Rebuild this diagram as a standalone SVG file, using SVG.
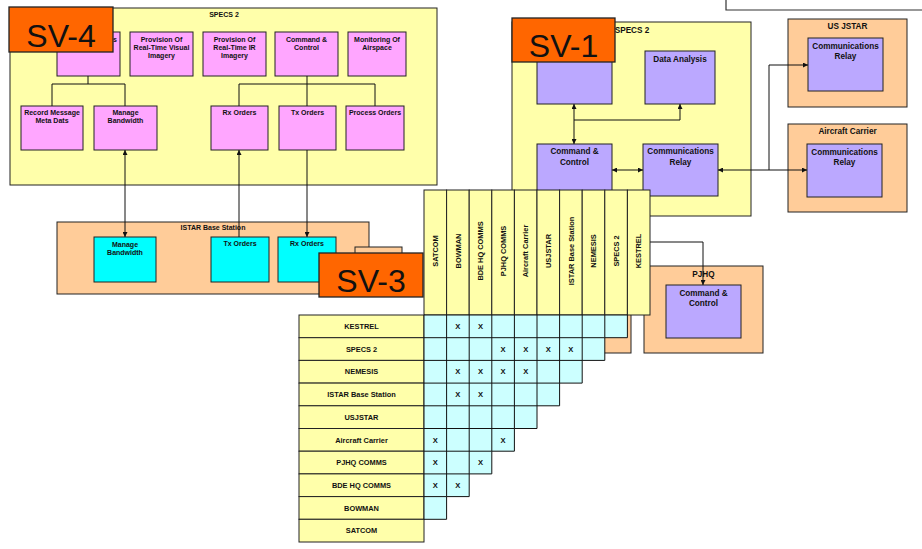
<svg xmlns="http://www.w3.org/2000/svg" width="922" height="549" viewBox="0 0 922 549">
<style>
text{font-family:"Liberation Sans",Arial,sans-serif;font-weight:bold;fill:#111;text-anchor:middle}
.s{font-size:7px}
.m{font-size:8.2px}
.t{font-size:7.4px}
.x{font-size:7.6px}
.sv{font-size:32px;font-weight:normal}
.yel{fill:#FFFFAA;stroke:#222;stroke-width:1}
.pink{fill:#FFA6FF;stroke:#222;stroke-width:1}
.pur{fill:#BBA8FF;stroke:#222;stroke-width:1}
.peach{fill:#FFCC99;stroke:#222;stroke-width:1}
.cyan{fill:#00FFFF;stroke:#222;stroke-width:1}
.cell{fill:#CCFFFF;stroke:#111;stroke-width:1}
.org{fill:#FF6600;stroke:#222;stroke-width:1.3}
.ln{fill:none;stroke:#111;stroke-width:1}
</style>
<defs>
<marker id="ah" markerWidth="5" markerHeight="5" refX="5" refY="2.5" orient="auto-start-reverse" markerUnits="userSpaceOnUse">
<path d="M0,0 L5,2.5 L0,5 z" fill="#111"/>
</marker>
</defs>
<rect width="922" height="549" fill="#fff"/>
<path d="M726,0 V10 H922" fill="none" stroke="#333" stroke-width="1.2"/>

<g id="specs2-left">
<rect class="yel" x="10" y="8" width="427" height="177"/>
<text class="s" x="224" y="17.2">SPECS 2</text>
<g id="l-comms"><rect class="pink" x="57" y="32" width="63" height="44"/><text class="s" x="117" y="41.5" style="text-anchor:end">s</text></g>
<g id="l-visual"><rect class="pink" x="130" y="32" width="63" height="44"/><text class="s" x="161.5" y="41.5">Provision Of</text><text class="s" x="161.5" y="49.7">Real-Time Visual</text><text class="s" x="161.5" y="58">Imagery</text></g>
<g id="l-ir"><rect class="pink" x="203" y="32" width="63" height="44"/><text class="s" x="234.5" y="41.5">Provision Of</text><text class="s" x="234.5" y="49.7">Real-Time IR</text><text class="s" x="234.5" y="58">Imagery</text></g>
<g id="l-cc"><rect class="pink" x="275" y="32" width="63" height="44"/><text class="s" x="306.5" y="41.5">Command &amp;</text><text class="s" x="306.5" y="49.7">Control</text></g>
<g id="l-mon"><rect class="pink" x="348" y="32" width="58" height="44"/><text class="s" x="377" y="41.5">Monitoring Of</text><text class="s" x="377" y="49.7">Airspace</text></g>
<g id="l-record"><rect class="pink" x="21" y="106" width="62" height="44"/><text class="s" x="52" y="115.2">Record Message</text><text class="s" x="52" y="123.2">Meta Dats</text></g>
<g id="l-bw"><rect class="pink" x="94" y="106" width="63" height="44"/><text class="s" x="125.5" y="115.2">Manage</text><text class="s" x="125.5" y="123.2">Bandwidth</text></g>
<g id="l-rx"><rect class="pink" x="211" y="106" width="57" height="44"/><text class="s" x="239.5" y="115.2">Rx Orders</text></g>
<g id="l-tx"><rect class="pink" x="279" y="106" width="57" height="44"/><text class="s" x="307.5" y="115.2">Tx Orders</text></g>
<g id="l-proc"><rect class="pink" x="346" y="106" width="58" height="44"/><text class="s" x="375" y="115.2">Process Orders</text></g>
</g>

<g id="specs2-right">
<rect class="yel" x="512" y="22" width="239" height="194"/>
<text class="m" x="632" y="33">SPECS 2</text>
<g id="r-hidden"><rect class="pur" x="537" y="51" width="75" height="53"/></g>
<g id="r-data"><rect class="pur" x="645" y="51" width="70" height="53"/><text class="m" x="680" y="62">Data Analysis</text></g>
<g id="r-cc"><rect class="pur" x="537" y="144" width="75" height="52"/><text class="m" x="574.5" y="154">Command &amp;</text><text class="m" x="574.5" y="165">Control</text></g>
<g id="r-relay"><rect class="pur" x="643" y="144" width="75" height="52"/><text class="m" x="680.5" y="154">Communications</text><text class="m" x="680.5" y="165">Relay</text></g>
</g>

<g id="usjstar">
<rect class="peach" x="788" y="19" width="119" height="88"/>
<text class="m" x="847.5" y="29">US JSTAR</text>
<rect class="pur" x="808" y="38" width="75" height="53"/>
<text class="m" x="845.5" y="49">Communications</text><text class="m" x="845.5" y="59">Relay</text>
</g>

<g id="carrier">
<rect class="peach" x="788" y="124" width="119" height="88"/>
<text class="m" x="847.5" y="134">Aircraft Carrier</text>
<rect class="pur" x="807" y="144" width="75" height="53"/>
<text class="m" x="844.5" y="155">Communications</text><text class="m" x="844.5" y="165">Relay</text>
</g>

<g id="istar">
<rect class="peach" x="57" y="222" width="312" height="72"/>
<text class="s" x="213" y="230.2">ISTAR Base Station</text>
<g id="i-bw"><rect class="cyan" x="94" y="237" width="62" height="45"/><text class="s" x="125" y="246.5">Manage</text><text class="s" x="125" y="254.8">Bandwidth</text></g>
<g id="i-tx"><rect class="cyan" x="211" y="237" width="58" height="45"/><text class="s" x="240" y="246">Tx Orders</text></g>
<g id="i-rx"><rect class="cyan" x="278" y="237" width="58" height="45"/><text class="s" x="307" y="246">Rx Orders</text></g>
</g>

<g id="hidden-a"><rect class="peach" x="355" y="247" width="47" height="46"/></g>
<g id="hidden-b"><rect class="peach" x="520" y="260" width="111" height="93"/></g>

<g id="pjhq">
<rect class="peach" x="644" y="266" width="119" height="87"/>
<text class="m" x="703.5" y="277">PJHQ</text>
<rect class="pur" x="666" y="285" width="75" height="53"/>
<text class="m" x="703.5" y="296">Command &amp;</text><text class="m" x="703.5" y="305.5">Control</text>
</g>

<g id="connectors">
<path class="ln" d="M88,76 V84 M52,84 H125 M52,84 V106 M125,84 V106"/>
<path class="ln" d="M307,76 V84 M239,84 H375 M239,84 V106 M307,84 V106 M375,84 V106"/>
<path class="ln" d="M125,150 V237" marker-start="url(#ah)" marker-end="url(#ah)"/>
<path class="ln" d="M239,237 V150" marker-end="url(#ah)"/>
<path class="ln" d="M307,150 V237" marker-end="url(#ah)"/>
<path class="ln" d="M574,104 V144" marker-start="url(#ah)" marker-end="url(#ah)"/>
<path class="ln" d="M574,120 H680 V104" marker-end="url(#ah)"/>
<path class="ln" d="M612,170 H643" marker-start="url(#ah)" marker-end="url(#ah)"/>
<path class="ln" d="M718,170 H807" marker-start="url(#ah)" marker-end="url(#ah)"/>
<path class="ln" d="M769,170 V65 H808" marker-end="url(#ah)"/>
<path class="ln" d="M650,242 H703 V285" marker-end="url(#ah)"/>
</g>

<g id="matrix">
<g id="col-heads">
<rect class="yel" x="424" y="190" width="22.6" height="125"/>
<rect class="yel" x="446.6" y="190" width="22.6" height="125"/>
<rect class="yel" x="469.2" y="190" width="22.6" height="125"/>
<rect class="yel" x="491.8" y="190" width="22.6" height="125"/>
<rect class="yel" x="514.4" y="190" width="22.6" height="125"/>
<rect class="yel" x="537" y="190" width="22.6" height="125"/>
<rect class="yel" x="559.6" y="190" width="22.6" height="125"/>
<rect class="yel" x="582.2" y="190" width="22.6" height="125"/>
<rect class="yel" x="604.8" y="190" width="22.6" height="125"/>
<rect class="yel" x="627.4" y="190" width="22.6" height="125"/>
<text class="t" transform="translate(437.9,251) rotate(-90)">SATCOM</text>
<text class="t" transform="translate(460.5,251) rotate(-90)">BOWMAN</text>
<text class="t" transform="translate(483.1,251) rotate(-90)">BDE HQ COMMS</text>
<text class="t" transform="translate(505.7,251) rotate(-90)">PJHQ COMMS</text>
<text class="t" transform="translate(528.3,251) rotate(-90)">Aircraft  Carrier</text>
<text class="t" transform="translate(550.9,251) rotate(-90)">USJSTAR</text>
<text class="t" transform="translate(573.5,251) rotate(-90)">ISTAR Base Station</text>
<text class="t" transform="translate(596.1,251) rotate(-90)">NEMESIS</text>
<text class="t" transform="translate(618.7,251) rotate(-90)">SPECS 2</text>
<text class="t" transform="translate(641.3,251) rotate(-90)">KESTREL</text>
</g>
<g id="row-heads">
<rect class="yel" x="299" y="315" width="125" height="22.7"/>
<rect class="yel" x="299" y="337.7" width="125" height="22.7"/>
<rect class="yel" x="299" y="360.4" width="125" height="22.7"/>
<rect class="yel" x="299" y="383.1" width="125" height="22.7"/>
<rect class="yel" x="299" y="405.8" width="125" height="22.7"/>
<rect class="yel" x="299" y="428.5" width="125" height="22.7"/>
<rect class="yel" x="299" y="451.2" width="125" height="22.7"/>
<rect class="yel" x="299" y="473.9" width="125" height="22.7"/>
<rect class="yel" x="299" y="496.6" width="125" height="22.7"/>
<rect class="yel" x="299" y="519.3" width="125" height="22.7"/>
<text class="t" x="361.5" y="329">KESTREL</text>
<text class="t" x="361.5" y="351.7">SPECS 2</text>
<text class="t" x="361.5" y="374.4">NEMESIS</text>
<text class="t" x="361.5" y="397.1">ISTAR Base Station</text>
<text class="t" x="361.5" y="419.8">USJSTAR</text>
<text class="t" x="361.5" y="442.5">Aircraft  Carrier</text>
<text class="t" x="361.5" y="465.2">PJHQ COMMS</text>
<text class="t" x="361.5" y="487.9">BDE HQ COMMS</text>
<text class="t" x="361.5" y="510.6">BOWMAN</text>
<text class="t" x="361.5" y="533.3">SATCOM</text>
</g>
<g id="cells">
<polygon class="cell" points="424,315 627.4,315 627.4,337.7 604.8,337.7 604.8,360.4 582.2,360.4 582.2,383.1 559.6,383.1 559.6,405.8 537,405.8 537,428.5 514.4,428.5 514.4,451.2 491.8,451.2 491.8,473.9 469.2,473.9 469.2,496.6 446.6,496.6 446.6,519.3 424,519.3"/>
<path class="ln" d="M446.6,315 V496.6 M469.2,315 V473.9 M491.8,315 V451.2 M514.4,315 V428.5 M537,315 V405.8 M559.6,315 V383.1 M582.2,315 V360.4 M604.8,315 V337.7 M424,337.7 H604.8 M424,360.4 H582.2 M424,383.1 H559.6 M424,405.8 H537 M424,428.5 H514.4 M424,451.2 H491.8 M424,473.9 H469.2 M424,496.6 H446.6"/>
<text class="x" x="457.9" y="329">X</text><text class="x" x="480.5" y="329">X</text>
<text class="x" x="503.1" y="351.7">X</text><text class="x" x="525.7" y="351.7">X</text><text class="x" x="548.3" y="351.7">X</text><text class="x" x="570.9" y="351.7">X</text>
<text class="x" x="457.9" y="374.4">X</text><text class="x" x="480.5" y="374.4">X</text><text class="x" x="503.1" y="374.4">X</text><text class="x" x="525.7" y="374.4">X</text>
<text class="x" x="457.9" y="397.1">X</text><text class="x" x="480.5" y="397.1">X</text>
<text class="x" x="435.3" y="442.5">X</text><text class="x" x="503.1" y="442.5">X</text>
<text class="x" x="435.3" y="465.2">X</text><text class="x" x="480.5" y="465.2">X</text>
<text class="x" x="435.3" y="487.9">X</text><text class="x" x="457.9" y="487.9">X</text>
</g>
</g>

<g id="sv4"><rect class="org" x="9" y="7" width="104" height="45"/><text class="sv" x="61" y="46.5">SV-4</text></g>
<g id="sv1"><rect class="org" x="512" y="18" width="103" height="44"/><text class="sv" x="563.5" y="57">SV-1</text></g>
<g id="sv3"><rect class="org" x="319" y="253" width="104" height="44"/><text class="sv" x="371" y="291.5">SV-3</text></g>
</svg>
